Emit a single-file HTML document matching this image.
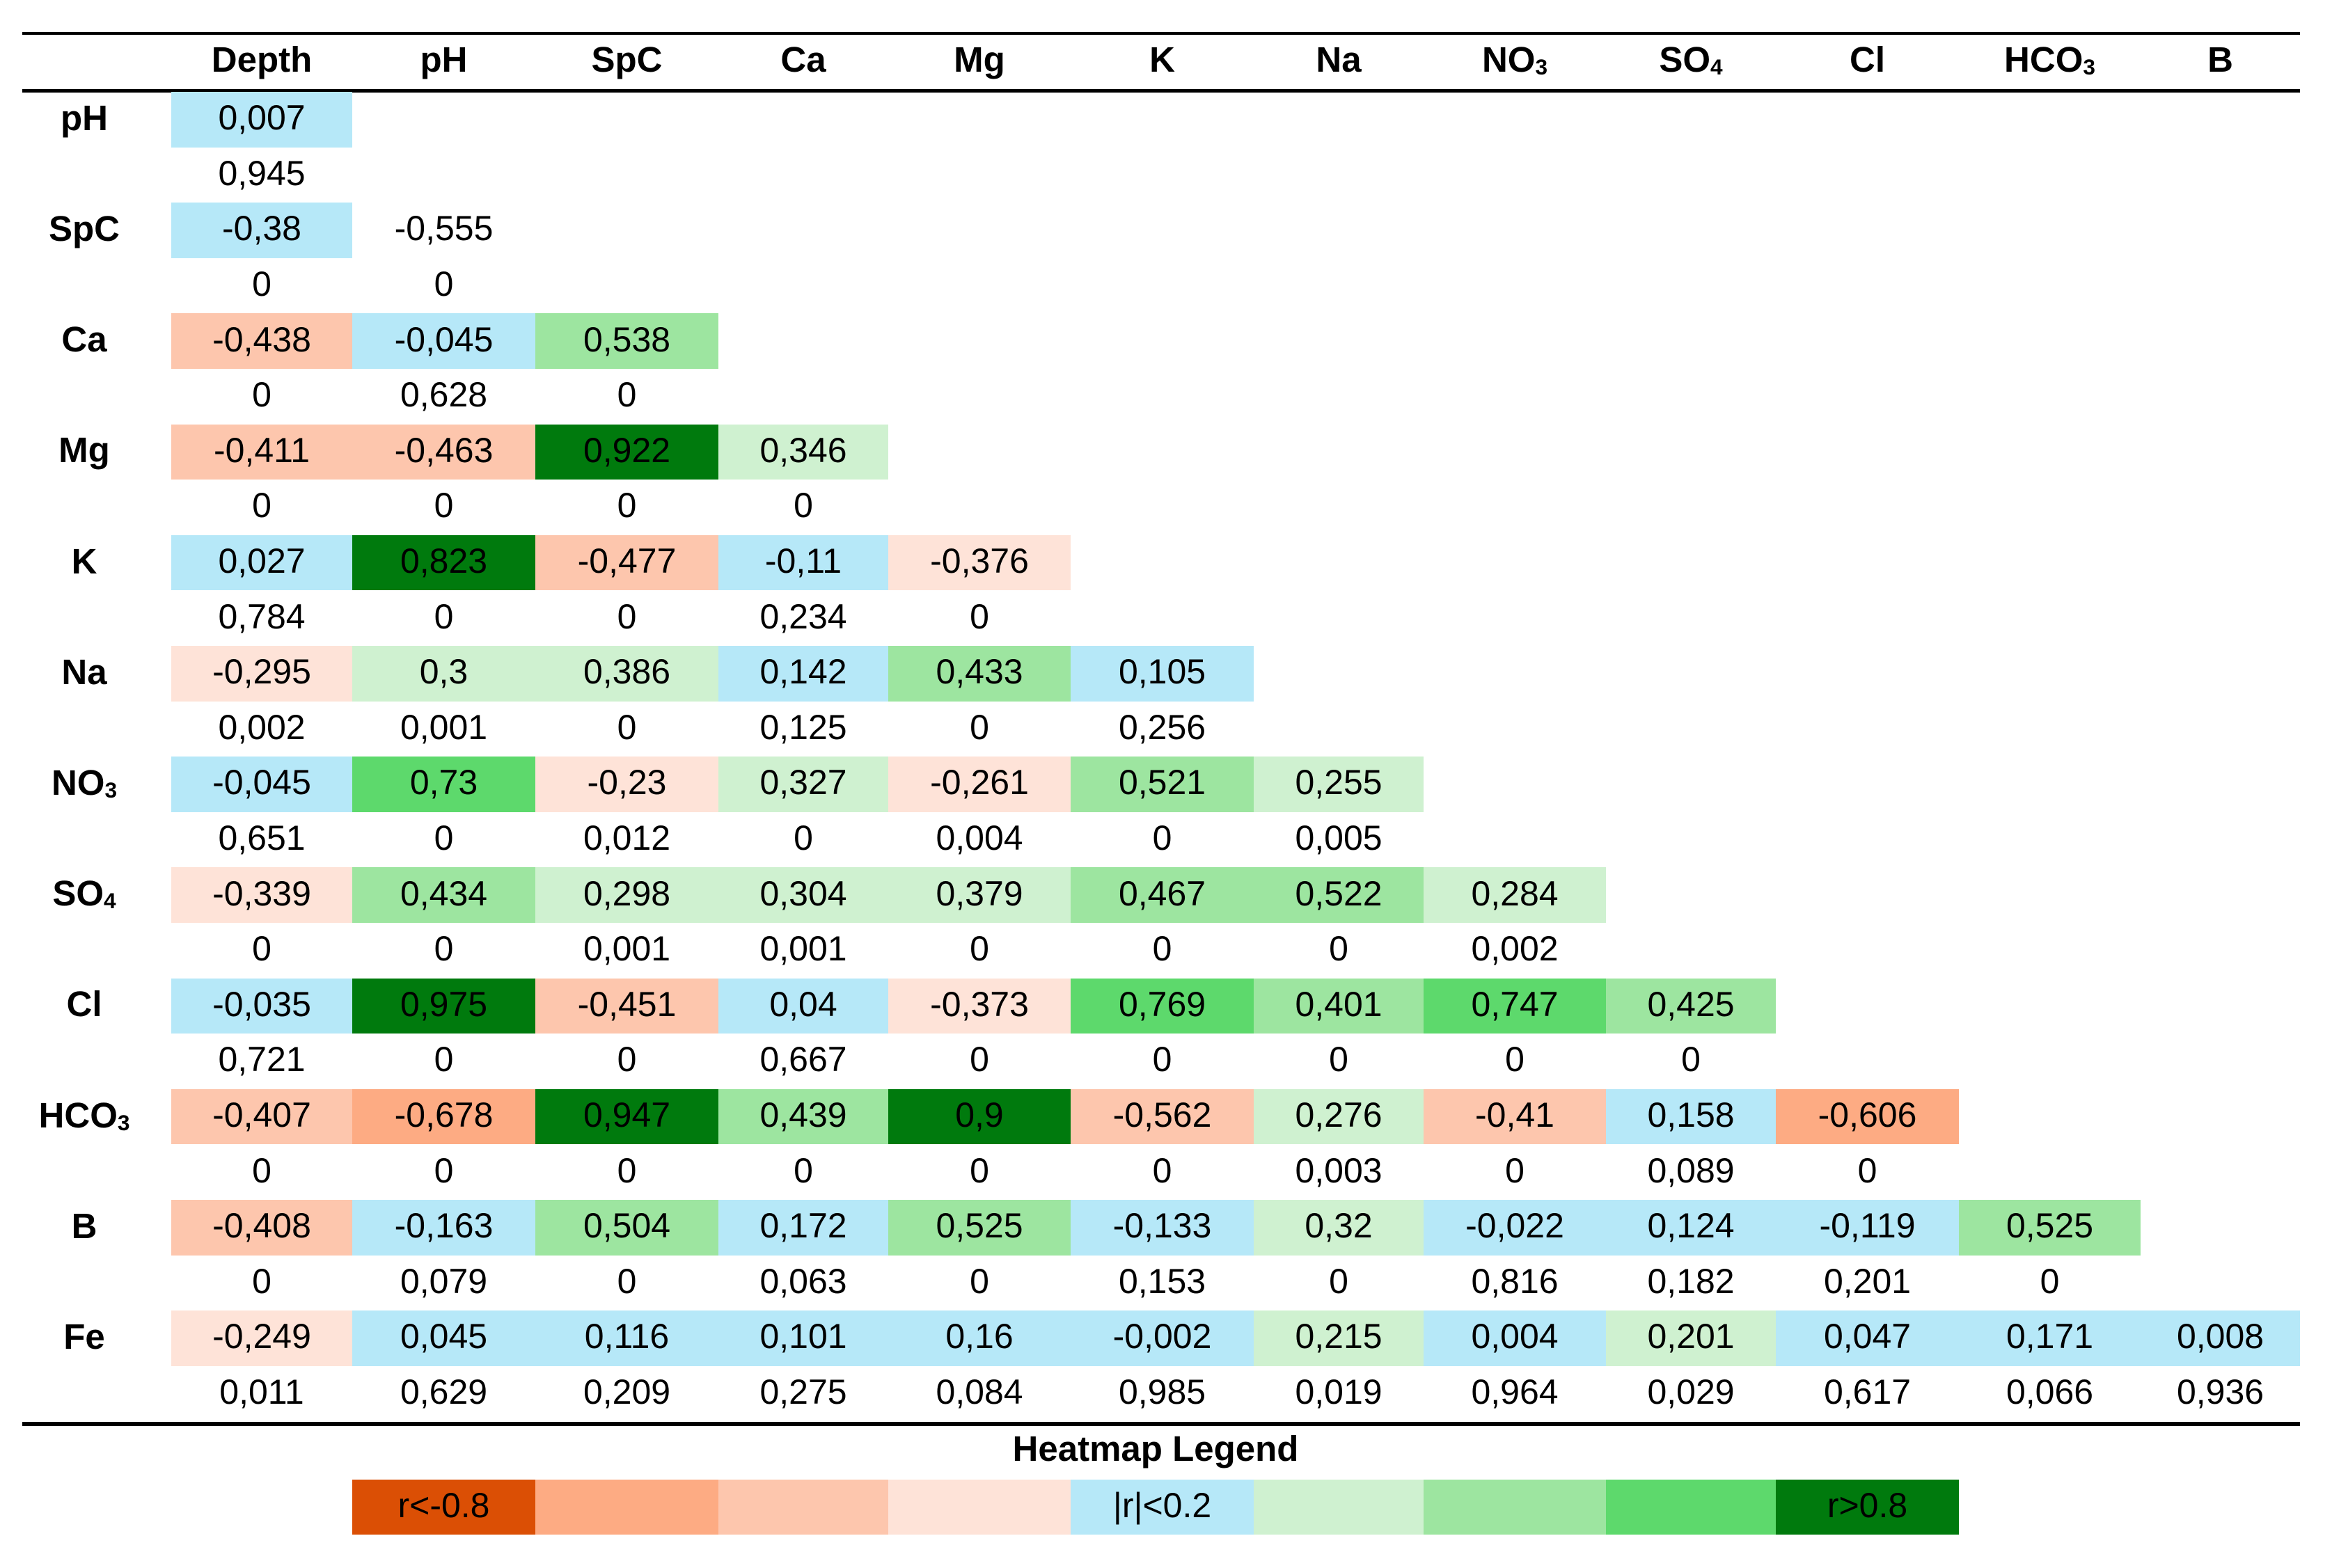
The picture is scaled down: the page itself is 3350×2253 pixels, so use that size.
<!DOCTYPE html>
<html><head><meta charset="utf-8">
<style>
html,body{margin:0;padding:0;background:#fff;}
#root{position:relative;width:3350px;height:2253px;overflow:hidden;font-family:"Liberation Sans",sans-serif;color:#000;}
.ln{position:absolute;background:#000;}
.cell{position:absolute;display:flex;align-items:center;justify-content:center;font-size:50px;white-space:nowrap;box-sizing:border-box;padding-bottom:5px;}
.hd{font-weight:bold;font-size:51px;}
.sb{display:inline-block;font-size:0.62em;position:relative;top:0.35em;}
</style></head>
<body>
<div id="root">
  <div class="ln" style="left:32px;top:46px;width:3272px;height:4px"></div>
  <div class="ln" style="left:32px;top:128px;width:3272px;height:5px"></div>
  <div class="ln" style="left:32px;top:2043px;width:3272px;height:6px"></div>
  <div class="cell hd" style="left:506px;top:2054px;width:2308px;height:60px">Heatmap Legend</div>
</div>
<script>
const colNames = ['Depth','pH','SpC','Ca','Mg','K','Na','NO<span class="sb">3</span>','SO<span class="sb">4</span>','Cl','HCO<span class="sb">3</span>','B'];
const rowNames = ['pH','SpC','Ca','Mg','K','Na','NO<span class="sb">3</span>','SO<span class="sb">4</span>','Cl','HCO<span class="sb">3</span>','B','Fe'];
const rVals = [
 [0.007],
 [-0.38,-0.555],
 [-0.438,-0.045,0.538],
 [-0.411,-0.463,0.922,0.346],
 [0.027,0.823,-0.477,-0.11,-0.376],
 [-0.295,0.3,0.386,0.142,0.433,0.105],
 [-0.045,0.73,-0.23,0.327,-0.261,0.521,0.255],
 [-0.339,0.434,0.298,0.304,0.379,0.467,0.522,0.284],
 [-0.035,0.975,-0.451,0.04,-0.373,0.769,0.401,0.747,0.425],
 [-0.407,-0.678,0.947,0.439,0.9,-0.562,0.276,-0.41,0.158,-0.606],
 [-0.408,-0.163,0.504,0.172,0.525,-0.133,0.32,-0.022,0.124,-0.119,0.525],
 [-0.249,0.045,0.116,0.101,0.16,-0.002,0.215,0.004,0.201,0.047,0.171,0.008]
];
const pVals = [
 [0.945],
 [0,0],
 [0,0.628,0],
 [0,0,0,0],
 [0.784,0,0,0.234,0],
 [0.002,0.001,0,0.125,0,0.256],
 [0.651,0,0.012,0,0.004,0,0.005],
 [0,0,0.001,0.001,0,0,0,0.002],
 [0.721,0,0,0.667,0,0,0,0,0],
 [0,0,0,0,0,0,0.003,0,0.089,0],
 [0,0.079,0,0.063,0,0.153,0,0.816,0.182,0.201,0],
 [0.011,0.629,0.209,0.275,0.084,0.985,0.019,0.964,0.029,0.617,0.066,0.936]
];
const legendLabels = ['r<-0.8','','','','|r|<0.2','','','','r>0.8'];
// cells whose fill in the source differs from threshold rule: [row, col, binIndex or -1 for none]
const fillOverrides = [[1,0,4],[1,1,-1]];

const palette = ['#db4f05','#fdab83','#fdc6ad','#fee3d8','#b6e8f8','#cff1d0','#9de5a0','#5dd96c','#007a0d'];
const colEdges = [246,506,769,1032,1276,1538,1801,2045,2307,2551,2814,3075,3304];
const rowTop = 132, subH = 79.6, labelCx = 121;

function binOf(r){
  if (r < -0.8) return 0;
  if (r < -0.6) return 1;
  if (r < -0.4) return 2;
  if (r < -0.2) return 3;
  if (r <= 0.2) return 4;
  if (r <= 0.4) return 5;
  if (r <= 0.6) return 6;
  if (r <= 0.8) return 7;
  return 8;
}
function fmt(v){ return String(v).replace('.',','); }
const root = document.getElementById('root');
function mk(cls, x, y, w, h, html, bg){
  const d = document.createElement('div');
  d.className = cls;
  d.style.left = x+'px'; d.style.top = y+'px'; d.style.width = w+'px'; d.style.height = h+'px';
  if (bg) d.style.background = bg;
  d.innerHTML = html;
  root.appendChild(d);
  return d;
}
colNames.forEach((n,j)=>{
  const d = mk('cell hd', colEdges[j], 50, colEdges[j+1]-colEdges[j], 76, n);
  
  
});
rowNames.forEach((n,i)=>{
  const y = rowTop + i*2*subH;
  const lab = mk('cell hd', labelCx-100, y, 200, subH, n);
  
  
  rVals[i].forEach((r,j)=>{
    let b = binOf(r);
    fillOverrides.forEach(o=>{ if (o[0]===i && o[1]===j) b = o[2]; });
    const c = mk('cell', colEdges[j], y, colEdges[j+1]-colEdges[j], subH, fmt(r), b>=0 ? palette[b] : null);
    
    
    const p = mk('cell', colEdges[j], y+subH, colEdges[j+1]-colEdges[j], subH, fmt(pVals[i][j]));
    
    
  });
});
legendLabels.forEach((t,k)=>{
  const j = k+1;
  const d = mk('cell', colEdges[j], 2126, colEdges[j+1]-colEdges[j], 79, t, palette[k]);
  
  
});
</script>
</body></html>
